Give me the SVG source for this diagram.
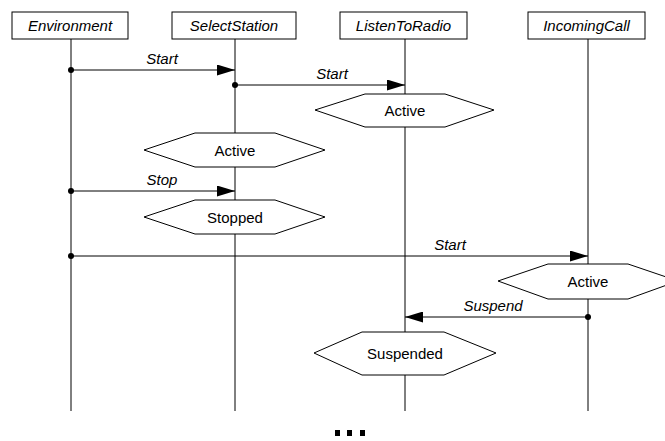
<svg xmlns="http://www.w3.org/2000/svg" width="665" height="441" viewBox="0 0 665 441">
<defs>
<style>
.box{fill:#fff;stroke:#000;stroke-width:1}
.life{stroke:#000;stroke-width:1}
.hex{fill:#fff;stroke:#000;stroke-width:1}
.msg{stroke:#000;stroke-width:1;fill:none}
.lbl{font-family:"Liberation Sans",Arial,sans-serif;font-size:15px;font-style:italic;text-anchor:middle;fill:#000}
.st{font-family:"Liberation Sans",Arial,sans-serif;font-size:15px;text-anchor:middle;fill:#000}
</style>
<marker id="ah" viewBox="0 0 18 11" refX="18" refY="5.5" markerWidth="18" markerHeight="11" markerUnits="userSpaceOnUse" orient="auto">
<path d="M0,0 L18,5.5 L0,11 Z" fill="#000"/>
</marker>
</defs>
<rect width="665" height="441" fill="#fff"/>
<g id="Environment">
<line class="life" x1="71" y1="39" x2="71" y2="411"/>
<rect class="box" x="12" y="12" width="116" height="27"/>
<text class="lbl" x="70" y="30.5">Environment</text>
</g>
<g id="SelectStation">
<line class="life" x1="235" y1="39" x2="235" y2="411"/>
<rect class="box" x="172" y="12" width="124" height="27"/>
<text class="lbl" x="234" y="30.5">SelectStation</text>
</g>
<g id="ListenToRadio">
<line class="life" x1="405" y1="39" x2="405" y2="411"/>
<rect class="box" x="340" y="12" width="127" height="27"/>
<text class="lbl" x="403.5" y="30.5">ListenToRadio</text>
</g>
<g id="IncomingCall">
<line class="life" x1="588" y1="39" x2="588" y2="411"/>
<rect class="box" x="528" y="12" width="117" height="27"/>
<text class="lbl" x="586.5" y="30.5">IncomingCall</text>
</g>
<g id="state-ltr-active">
<polygon class="hex" points="315,110 365,94 445,94 494,110 445,127 365,127"/>
<text class="st" x="405" y="115.5">Active</text>
</g>
<g id="state-ss-active">
<polygon class="hex" points="144,150 195,133 275,133 325,150 275,167 195,167"/>
<text class="st" x="235" y="155.5">Active</text>
</g>
<g id="state-ss-stopped">
<polygon class="hex" points="144,217 195,200 275,200 325,217 275,234 195,234"/>
<text class="st" x="235" y="222.5">Stopped</text>
</g>
<g id="state-ic-active">
<polygon class="hex" points="498,281 548,264 628,264 678,281 628,299 548,299"/>
<text class="st" x="588" y="286.5">Active</text>
</g>
<g id="state-ltr-suspended">
<polygon class="hex" points="314,353 362,332 444,332 496,353 444,375 362,375"/>
<text class="st" x="405" y="358.5">Suspended</text>
</g>
<g id="connectors">
<line class="msg" x1="71" y1="70" x2="235" y2="70" marker-end="url(#ah)"/>
<circle cx="71" cy="70" r="3"/>
<text class="lbl" x="162" y="64">Start</text>
<line class="msg" x1="235" y1="85" x2="405" y2="85" marker-end="url(#ah)"/>
<circle cx="235" cy="85" r="3"/>
<text class="lbl" x="332" y="79">Start</text>
<line class="msg" x1="71" y1="191" x2="235" y2="191" marker-end="url(#ah)"/>
<circle cx="71" cy="191" r="3"/>
<text class="lbl" x="162" y="185">Stop</text>
<line class="msg" x1="71" y1="256" x2="588" y2="256" marker-end="url(#ah)"/>
<circle cx="71" cy="256" r="3"/>
<text class="lbl" x="450" y="250">Start</text>
<line class="msg" x1="588" y1="317" x2="405" y2="317" marker-end="url(#ah)"/>
<circle cx="588" cy="317" r="3"/>
<text class="lbl" x="493" y="311">Suspend</text>
</g>
<g id="ellipsis">
<rect x="335" y="430" width="5" height="6"/>
<rect x="347" y="430" width="5" height="6"/>
<rect x="360" y="430" width="5" height="6"/>
</g>
</svg>
